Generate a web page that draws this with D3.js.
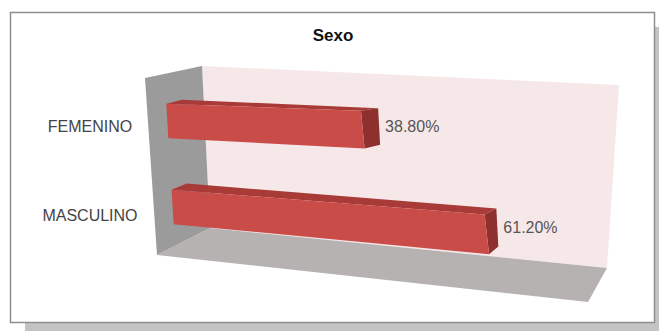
<!DOCTYPE html>
<html><head><meta charset="utf-8">
<script src="https://cdn.jsdelivr.net/npm/d3@7"></script>
<style>body{margin:0;background:#fff;} svg{display:block;}</style>
</head><body>
<svg id="chart" width="659" height="331"></svg>
<script>
const title = "Sexo";
const categories = ["FEMENINO", "MASCULINO"];
const values = [38.8, 61.2];
const valueLabels = ["38.80%", "61.20%"];
const axisMax = 81;

const svg = d3.select("#chart");

// perspective box corners (front plane z=0, back plane z=1)
const F = {bl:[157,255], br:[588,302], tl:[145,78], tr:[542,80]};
const B = {bl:[210,228], br:[607,268], tl:[202,66], tr:[619,85]};
const lerp = (a,b,t)=>[a[0]+(b[0]-a[0])*t, a[1]+(b[1]-a[1])*t];
function bil(P, X, Y){ return lerp(lerp(P.bl,P.br,X), lerp(P.tl,P.tr,X), Y); }
function proj(X,Y,Z){ return lerp(bil(F,X,Y), bil(B,X,Y), Z); }
const poly = pts => "M" + pts.map(p=>proj(...p).map(v=>v.toFixed(2)).join(",")).join("L") + "Z";

const x = d3.scaleLinear().domain([0, axisMax]).range([0, 1]);
const y = d3.scaleBand().domain(categories.slice().reverse()).range([0, 1])
  .paddingInner(0.6).paddingOuter(0.3).align(0.42);
const z0 = 0.34, z1 = 0.62;
const font = "Liberation Sans, Arial, sans-serif";

// frame + shadow
svg.append("rect").attr("x",25).attr("y",27).attr("width",634).attr("height",304).attr("fill","#c3c3c3");
svg.append("rect").attr("x",10.5).attr("y",12.5).attr("width",644).attr("height",310).attr("fill","#fff").attr("stroke","#8e8e8e").attr("stroke-width",1.5);

svg.append("text").attr("x",333).attr("y",41).attr("text-anchor","middle")
  .attr("font-family",font).attr("font-weight","bold").attr("font-size",17)
  .attr("fill","#111").text(title);

// walls
svg.append("path").attr("d", poly([[0,0,1],[1,0,1],[1,1,1],[0,1,1]])).attr("fill","#f6e8e8");
svg.append("path").attr("d", poly([[0,0,0],[1,0,0],[1,0,1],[0,0,1]])).attr("fill","#b6b2b2");
svg.append("path").attr("d", poly([[0,0,0],[0,0,1],[0,1,1],[0,1,0]])).attr("fill","#9b9b9b");

// bars
const g = svg.append("g");
categories.forEach((c,i)=>{
  const X1 = x(values[i]), Y0 = y(c), Y1 = y(c)+y.bandwidth(), Yc = Y0 + y.bandwidth()/2;
  g.append("path").attr("d", poly([[0,Y1,z0],[X1,Y1,z0],[X1,Y1,z1],[0,Y1,z1]])).attr("fill","#a83a38");
  g.append("path").attr("d", poly([[X1,Y0,z0],[X1,Y0,z1],[X1,Y1,z1],[X1,Y1,z0]])).attr("fill","#8e302e");
  g.append("path").attr("d", poly([[0,Y0,z0],[X1,Y0,z0],[X1,Y1,z0],[0,Y1,z0]])).attr("fill","#c94c48");
  // category label
  const lp = proj(0, Yc, 0);
  svg.append("text").attr("x",90).attr("y",lp[1]).attr("dy","0.35em").attr("text-anchor","middle")
    .attr("font-family",font).attr("font-size",16).attr("fill","#444")
    .text(c);
  // value label
  const vp = proj(X1, Yc, z1);
  svg.append("text").attr("x",vp[0] + 6).attr("y",vp[1]).attr("dy","0.35em")
    .attr("font-family",font).attr("font-size",16).attr("fill","#555")
    .text(valueLabels[i]);
});
</script>
</body></html>
